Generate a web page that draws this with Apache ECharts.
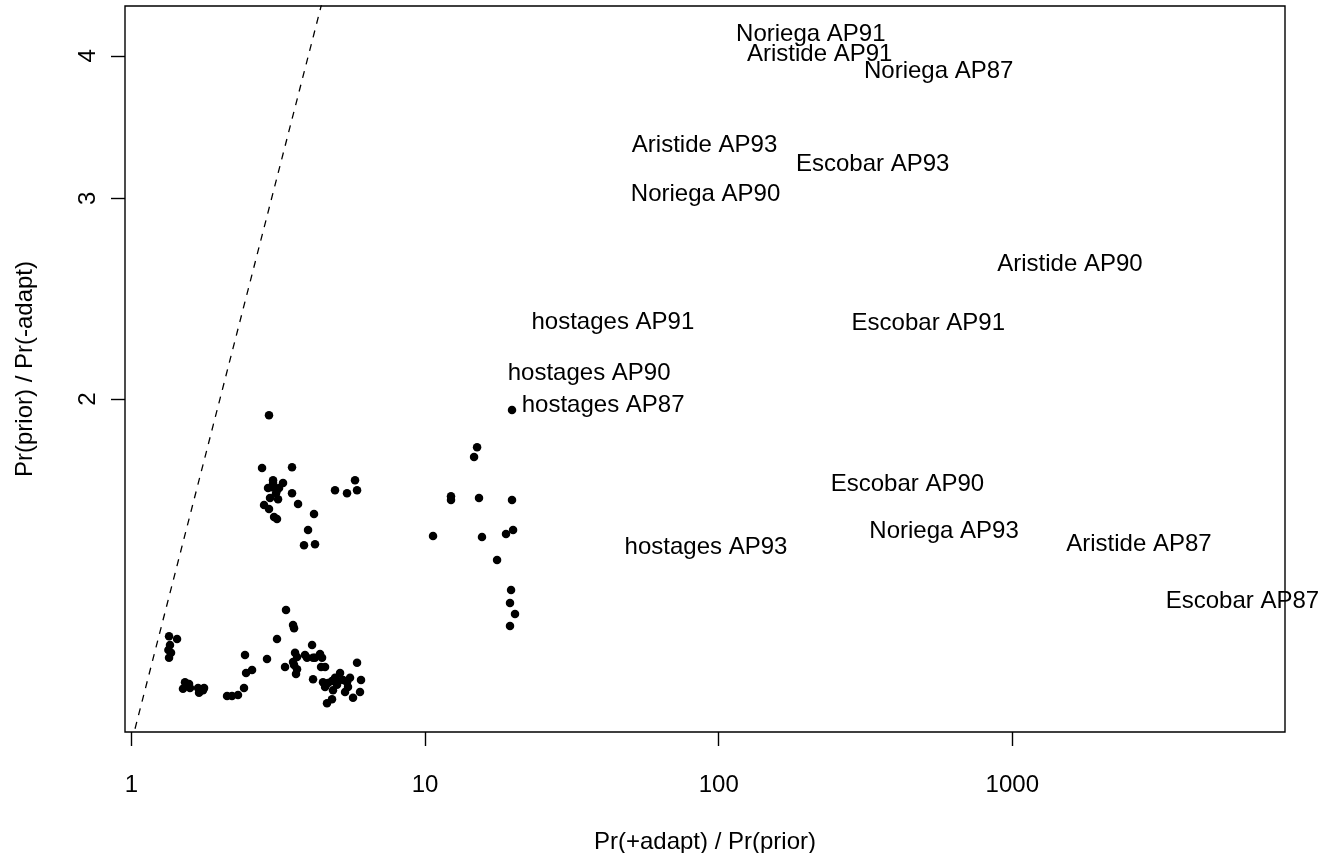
<!DOCTYPE html>
<html>
<head>
<meta charset="utf-8">
<script src="https://cdn.jsdelivr.net/npm/echarts@6/dist/echarts.min.js"></script>
<style>
  html, body { margin: 0; padding: 0; background: #ffffff; overflow: hidden; }
  #chart { width: 1322px; height: 853px; }
</style>
</head>
<body>
<div id="chart"></div>
<script>
// Axis tick positions (both axes are log10)
const xTicks = [1, 10, 100, 1000];
const yTicks = [2, 3, 4];

// Individual observations: Pr(+adapt)/Pr(prior) and Pr(prior)/Pr(-adapt)
const pointX = [
  1.342, 1.429, 1.352, 1.363, 1.342, 1.335,
  1.521, 1.570, 1.497, 1.582, 1.685, 1.752, 1.698, 1.766,
  2.115, 2.199, 2.305, 2.416, 2.455, 2.573, 2.435, 2.894,
  3.130, 3.359, 3.549, 3.577, 3.333, 4.120,
  3.605, 3.662, 3.549, 3.577, 3.662, 3.633, 3.898, 3.960,
  4.152, 4.217, 4.386, 4.456, 4.421, 4.562, 4.152,
  4.489, 4.562, 4.669, 4.818, 4.933, 5.131, 5.011, 4.856, 4.818, 4.633,
  5.253, 5.420, 5.462, 5.336, 5.681, 5.863, 6.049, 6.001, 5.549, 5.050,
  2.939, 2.783, 3.521, 3.034, 3.034, 3.281, 2.917, 3.010, 3.130, 3.180,
  3.106, 3.521, 2.963, 3.155, 2.827, 2.939, 3.691, 3.058, 3.130, 4.184,
  3.992, 3.868, 4.217, 4.933, 5.420, 5.771, 5.863,
  15.03, 14.68, 12.25, 12.25, 15.26, 19.77, 10.64, 15.62, 18.86, 19.93,
  17.58, 19.62, 19.46, 20.24, 19.46, 19.77
];
const pointY = [
  1.239, 1.232, 1.217, 1.198, 1.186, 1.205,
  1.129, 1.125, 1.114, 1.116, 1.116, 1.111, 1.105, 1.116,
  1.098, 1.098, 1.100, 1.116, 1.150, 1.157, 1.193, 1.183,
  1.232, 1.306, 1.267, 1.259, 1.164, 1.217,
  1.198, 1.188, 1.176, 1.169, 1.159, 1.148, 1.193, 1.186,
  1.186, 1.186, 1.195, 1.186, 1.164, 1.164, 1.136,
  1.129, 1.118, 1.127, 1.132, 1.139, 1.150, 1.123, 1.111, 1.091, 1.082,
  1.134, 1.129, 1.118, 1.107, 1.094, 1.174, 1.134, 1.107, 1.139, 1.132,
  1.936, 1.740, 1.743, 1.698, 1.688, 1.688, 1.671, 1.674, 1.664, 1.671,
  1.654, 1.654, 1.638, 1.634, 1.615, 1.602, 1.618, 1.576, 1.570, 1.586,
  1.535, 1.489, 1.492, 1.664, 1.654, 1.698, 1.664,
  1.815, 1.779, 1.644, 1.631, 1.638, 1.631, 1.517, 1.514, 1.523, 1.535,
  1.445, 1.360, 1.325, 1.296, 1.265, 1.956
];

// Named topic/source combinations, drawn as text at their location
const labelNames = [
  'Noriega AP91', 'Aristide AP91', 'Noriega AP87', 'Aristide AP93',
  'Escobar AP93', 'Noriega AP90', 'Aristide AP90', 'hostages AP91',
  'Escobar AP91', 'hostages AP90', 'hostages AP87', 'Escobar AP90',
  'Noriega AP93', 'hostages AP93', 'Aristide AP87', 'Escobar AP87'
];
const labelX = [
  205.9, 220.8, 561.5, 89.5,
  334.5, 90.2, 1572, 43.6,
  517.6, 36.2, 40.4, 439.5,
  585.4, 90.5, 2701, 6082
];
const labelY = [
  4.179, 4.014, 3.876, 3.341,
  3.211, 3.026, 2.623, 2.336,
  2.331, 2.108, 1.976, 1.685,
  1.532, 1.483, 1.492, 1.330
];

// Reference line y = x
const identityLine = [1, 5];

const FONT = '"Liberation Sans", Arial, Helvetica, sans-serif';

const chart = echarts.init(document.getElementById('chart'), null, { renderer: 'canvas', width: 1322, height: 853 });

chart.setOption({
  animation: false,
  backgroundColor: '#ffffff',
  textStyle: { fontFamily: FONT },
  grid: {
    left: 125, right: 37, top: 6, bottom: 121,
    outerBoundsMode: 'none',
    containLabel: false,
    show: true, borderColor: '#000000', borderWidth: 1.4,
    backgroundColor: 'transparent'
  },
  xAxis: {
    type: 'log',
    logBase: 10,
    min: 0.95,
    max: 8490,
    name: 'Pr(+adapt) / Pr(prior)',
    nameLocation: 'middle',
    nameGap: 98,
    nameTextStyle: { color: '#000', fontSize: 24, fontFamily: FONT },
    axisLine: { show: false, onZero: false },
    axisTick: { show: true, customValues: xTicks, length: 14, lineStyle: { color: '#000', width: 1.4 } },
    axisLabel: {
      customValues: xTicks, color: '#000', fontSize: 24, fontFamily: FONT, margin: 41,
      formatter: (v) => String(Math.round(v))
    },
    splitLine: { show: false },
    minorTick: { show: false }
  },
  yAxis: {
    type: 'log',
    logBase: 10,
    min: 1.021,
    max: 4.424,
    name: 'Pr(prior) / Pr(-adapt)',
    nameLocation: 'middle',
    nameRotate: 90,
    nameGap: 88,
    nameTextStyle: { color: '#000', fontSize: 24, fontFamily: FONT },
    axisLine: { show: false, onZero: false },
    axisTick: { show: true, customValues: yTicks, length: 14, lineStyle: { color: '#000', width: 1.4 } },
    axisLabel: {
      customValues: yTicks, rotate: 90, color: '#000', fontSize: 24, fontFamily: FONT, margin: 25,
      formatter: (v) => String(Math.round(v))
    },
    splitLine: { show: false },
    minorTick: { show: false }
  },
  series: [
    {
      type: 'line',
      data: [[identityLine[0], identityLine[0]], [identityLine[1], identityLine[1]]],
      symbol: 'none',
      clip: true,
      silent: true,
      lineStyle: { color: '#000', width: 1.3, type: [7, 7] }
    },
    {
      type: 'scatter',
      data: pointX.map((x, i) => [x, pointY[i]]),
      symbol: 'circle',
      symbolSize: 8.5,
      itemStyle: { color: '#000', opacity: 1 },
      silent: true
    },
    {
      type: 'scatter',
      data: labelNames.map((n, i) => ({ name: n, value: [labelX[i], labelY[i]] })),
      symbol: 'circle',
      symbolSize: 0,
      silent: true,
      clip: false,
      itemStyle: { color: '#000', opacity: 1 },
      label: {
        show: true,
        position: 'inside',
        formatter: '{b}',
        color: '#000',
        opacity: 1,
        fontSize: 24,
        fontFamily: FONT,
        align: 'center',
        verticalAlign: 'middle'
      }
    }
  ]
});
</script>
</body>
</html>
